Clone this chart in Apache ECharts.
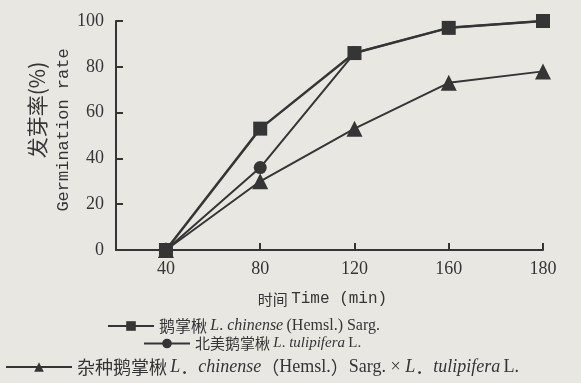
<!DOCTYPE html>
<html><head><meta charset="utf-8">
<script src="https://cdn.jsdelivr.net/npm/echarts@6/dist/echarts.min.js"></script>
<style>html,body{margin:0;padding:0;background:#e9e7e2}#c{width:581px;height:383px}</style>
</head><body><div id="c"></div>
<script>
const categories = ['40', '80', '120', '160', '180'];
const yTicks = [0, 20, 40, 60, 80, 100];
const chinenseVals = [0, 53, 86, 97, 100];
const tulipiferaVals = [0, 36, 86, 97, 100];
const hybridVals = [0, 30, 53, 73, 78];
const seriesNames = ['鹅掌楸', '北美鹅掌楸', '杂种鹅掌楸'];

const ink = '#353535';
const serif = 'Liberation Serif';
const cjk = 'Noto Sans CJK SC';
const mono = 'Liberation Mono';

function pts(vals){ return vals.map((v,i)=>[i, v]); }

function mkRich(cs, ss){
  return {
    z: {fontFamily: cjk, fontSize: cs, color: ink},
    i: {fontFamily: serif, fontSize: ss, fontStyle: 'italic', color: ink},
    r: {fontFamily: serif, fontSize: ss, color: ink}
  };
}
const legendText = {
  '鹅掌楸': '{z|鹅掌楸} {i|L}{r|. }{i|chinense} {r|(Hemsl.) Sarg.}',
  '北美鹅掌楸': '{z|北美鹅掌楸} {i|L}{r|. }{i|tulipifera} {r|L.}',
  '杂种鹅掌楸': '{z|杂种鹅掌楸} {i|L}{z|．}{i|chinense}{z|（}{r|Hemsl.}{z|）}{r|Sarg. × }{i|L}{z|．}{i|tulipifera} {r|L.}'
};
function mkLegend(name, left, top, w, cs, ss){
  return {
    data: [name], left: left, top: top, padding: 0, itemWidth: w, itemHeight: 12,
    formatter: n => legendText[n], textStyle: {rich: mkRich(cs, ss), color: ink},
    selectedMode: false
  };
}

const chart = echarts.init(document.getElementById('c'));
chart.setOption({
  backgroundColor: '#e9e7e2',
  animation: false,
  grid: {left: 116, right: 38, top: 21, bottom: 133},
  xAxis: {
    type: 'value', min: -0.53, max: 4,
    axisLine: {lineStyle: {color: ink, width: 2}},
    axisTick: {show: true, inside: true, length: 7, customValues: [1,2,3,4], lineStyle: {color: ink, width: 2}},
    axisLabel: {customValues: [0,1,2,3,4], formatter: v => categories[Math.round(v)], color: ink,
      fontFamily: serif, fontSize: 18, margin: 10},
    splitLine: {show: false},
    name: '{c|时间} {e|Time (min)}', nameLocation: 'middle', nameGap: 41,
    nameTextStyle: {padding: [0, 14, 0, 0], rich: {c: {fontFamily: cjk, fontSize: 15, color: ink}, e: {fontFamily: mono, fontSize: 16, color: ink}}}
  },
  yAxis: {
    type: 'value', min: 0, max: 100, interval: 20,
    axisLine: {show: true, onZero: false, lineStyle: {color: ink, width: 2}},
    axisTick: {show: true, inside: true, length: 7, lineStyle: {color: ink, width: 2}},
    axisLabel: {color: ink, fontFamily: serif, fontSize: 18, margin: 12,
      formatter: v => yTicks.includes(v) ? String(v) : ''},
    splitLine: {show: false}
  },
  graphic: [
    {type: 'text', x: 37, y: 110, rotation: Math.PI/2,
     style: {text: '发芽率(%)', font: '21px "Noto Sans CJK SC"', fill: ink, align: 'center', verticalAlign: 'middle'}},
    {type: 'text', x: 63, y: 130, rotation: Math.PI/2,
     style: {text: 'Germination rate', font: '17px "Liberation Mono"', fill: ink, align: 'center', verticalAlign: 'middle'}}
  ],
  legend: [
    mkLegend(seriesNames[0], 107, 318, 46, 16, 16),
    mkLegend(seriesNames[1], 143, 336, 46, 15, 15),
    mkLegend(seriesNames[2], 5, 358, 66, 18, 18)
  ],
  series: [
    {name: seriesNames[2], type: 'line', data: pts(hybridVals), symbol: 'triangle', symbolSize: 16,
     lineStyle: {color: ink, width: 2}, itemStyle: {color: ink}, z: 2},
    {name: seriesNames[1], type: 'line', data: pts(tulipiferaVals), symbol: 'circle', symbolSize: 13,
     lineStyle: {color: ink, width: 2}, itemStyle: {color: ink}, z: 3},
    {name: seriesNames[0], type: 'line', data: pts(chinenseVals), symbol: 'rect', symbolSize: 14,
     lineStyle: {color: ink, width: 2.5}, itemStyle: {color: ink}, z: 4}
  ]
});
</script></body></html>
